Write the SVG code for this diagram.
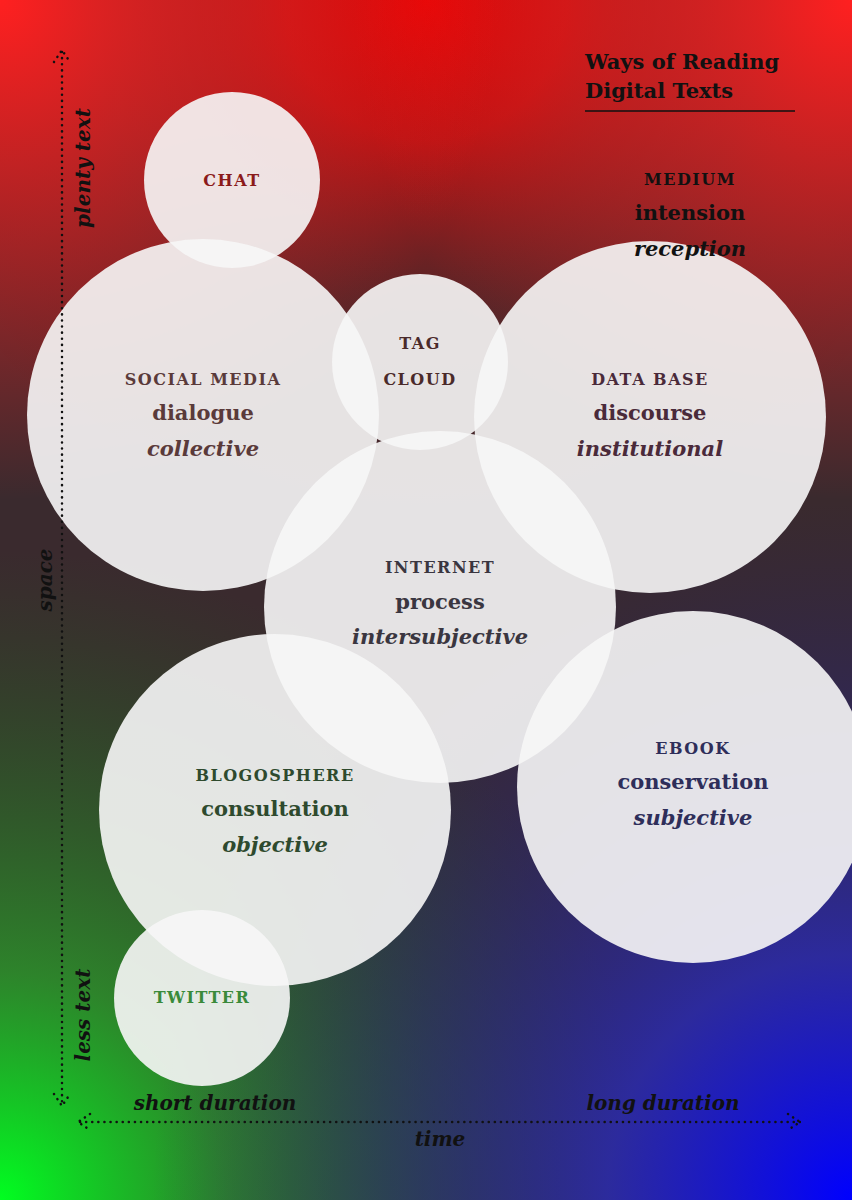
<svg xmlns="http://www.w3.org/2000/svg" width="852" height="1200" viewBox="0 0 852 1200">
<defs>
<radialGradient id="gr" cx="426" cy="0" r="560" gradientUnits="userSpaceOnUse"><stop offset="0" stop-color="#e00000"/><stop offset="0.25" stop-color="#c01010" stop-opacity="0.9"/><stop offset="0.6" stop-color="#7a2020" stop-opacity="0.3"/><stop offset="1" stop-color="#800000" stop-opacity="0"/></radialGradient>
<radialGradient id="gg" cx="0" cy="1200" r="650" gradientUnits="userSpaceOnUse"><stop offset="0" stop-color="#00ff20"/><stop offset="0.35" stop-color="#2a9a2a" stop-opacity="0.8"/><stop offset="1" stop-color="#206020" stop-opacity="0"/></radialGradient>
<radialGradient id="gb" cx="852" cy="1200" r="700" gradientUnits="userSpaceOnUse"><stop offset="0" stop-color="#0000ff"/><stop offset="0.35" stop-color="#2a2ab0" stop-opacity="0.85"/><stop offset="1" stop-color="#202060" stop-opacity="0"/></radialGradient>
<radialGradient id="gr2" cx="852" cy="0" r="500" gradientUnits="userSpaceOnUse"><stop offset="0" stop-color="#ff2020"/><stop offset="1" stop-color="#ff2020" stop-opacity="0"/></radialGradient>
<radialGradient id="gr3" cx="0" cy="0" r="500" gradientUnits="userSpaceOnUse"><stop offset="0" stop-color="#ff2020"/><stop offset="1" stop-color="#ff2020" stop-opacity="0"/></radialGradient>
</defs>
<style>
.c{fill:#f6f6f6;fill-opacity:0.91}
.t{font-family:"DejaVu Serif",serif;font-weight:bold;text-anchor:middle}
.cap{font-size:16px;letter-spacing:1.5px}
.w{font-size:21px}
.i{font-size:21px;font-style:italic}
.ax{font-family:"DejaVu Serif",serif;font-weight:bold;font-style:italic;font-size:20px;fill:#111;text-anchor:middle}
.d{stroke:#111;stroke-width:2.5;stroke-dasharray:0.1 6;stroke-linecap:round;fill:none}
.ti{font-family:"DejaVu Serif",serif;font-weight:bold;font-size:21px;fill:#111}
</style>
<rect width="852" height="1200" fill="#3a2a2e"/>
<rect width="852" height="1200" fill="url(#gr)"/>
<rect width="852" height="1200" fill="url(#gr2)"/>
<rect width="852" height="1200" fill="url(#gr3)"/>
<rect width="852" height="1200" fill="url(#gg)"/>
<rect width="852" height="1200" fill="url(#gb)"/>
<g id="title"><text x="585" y="69" class="ti">Ways of Reading</text><text x="585" y="98" class="ti">Digital Texts</text><line x1="585" y1="111" x2="795" y2="111" stroke="#111" stroke-width="1.5"/></g>
<g id="chat"><circle class="c" cx="232" cy="180" r="88"/><text class="t cap" x="232" y="186" fill="#8b1a1a">CHAT</text></g>
<g id="social"><circle class="c" cx="203" cy="415" r="176"/><g class="t" fill="#5a3a3a"><text class="cap" x="203" y="385">SOCIAL MEDIA</text><text class="w" x="203" y="420">dialogue</text><text class="i" x="203" y="456">collective</text></g></g>
<g id="tag"><circle class="c" cx="420" cy="362" r="88"/><g class="t cap" fill="#4a2a2a"><text x="420" y="349">TAG</text><text x="420" y="385">CLOUD</text></g></g>
<g id="database"><circle class="c" cx="650" cy="417" r="176"/><g class="t" fill="#4a2a3a"><text class="cap" x="650" y="385">DATA BASE</text><text class="w" x="650" y="420">discourse</text><text class="i" x="650" y="456">institutional</text></g></g>
<g id="internet"><circle class="c" cx="440" cy="607" r="176"/><g class="t" fill="#3a3640"><text class="cap" x="440" y="573">INTERNET</text><text class="w" x="440" y="609">process</text><text class="i" x="440" y="644">intersubjective</text></g></g>
<g id="blog"><circle class="c" cx="275" cy="810" r="176"/><g class="t" fill="#2e4a2e"><text class="cap" x="275" y="781">BLOGOSPHERE</text><text class="w" x="275" y="816">consultation</text><text class="i" x="275" y="852">objective</text></g></g>
<g id="ebook"><circle class="c" cx="693" cy="787" r="176"/><g class="t" fill="#2e2e5a"><text class="cap" x="693" y="754">EBOOK</text><text class="w" x="693" y="789">conservation</text><text class="i" x="693" y="825">subjective</text></g></g>
<g id="twitter"><circle class="c" cx="202" cy="998" r="88"/><text class="t cap" x="202" y="1003" fill="#3a8a3a">TWITTER</text></g>
<g id="legend" class="t" fill="#111"><text x="690" y="185" class="cap">MEDIUM</text><text x="690" y="220" class="w">intension</text><text x="690" y="256" class="i">reception</text></g>
<g id="connectors">
<line class="d" x1="62" y1="52" x2="62" y2="1104"/>
<polyline class="d" points="54,62 62,50 70,62"/>
<polyline class="d" points="54,1094 62,1106 70,1094"/>
<line class="d" x1="80" y1="1122" x2="800" y2="1122"/>
<polyline class="d" points="90,1114 78,1122 90,1130"/>
<polyline class="d" points="788,1114 800,1122 788,1130"/>
</g>
<g id="axes">
<text class="ax" transform="translate(90,168) rotate(-90)">plenty text</text>
<text class="ax" transform="translate(52,580) rotate(-90)">space</text>
<text class="ax" transform="translate(90,1015) rotate(-90)">less text</text>
<text class="ax" x="215" y="1110">short duration</text>
<text class="ax" x="663" y="1110">long duration</text>
<text class="ax" x="440" y="1146">time</text>
</g>
</svg>
